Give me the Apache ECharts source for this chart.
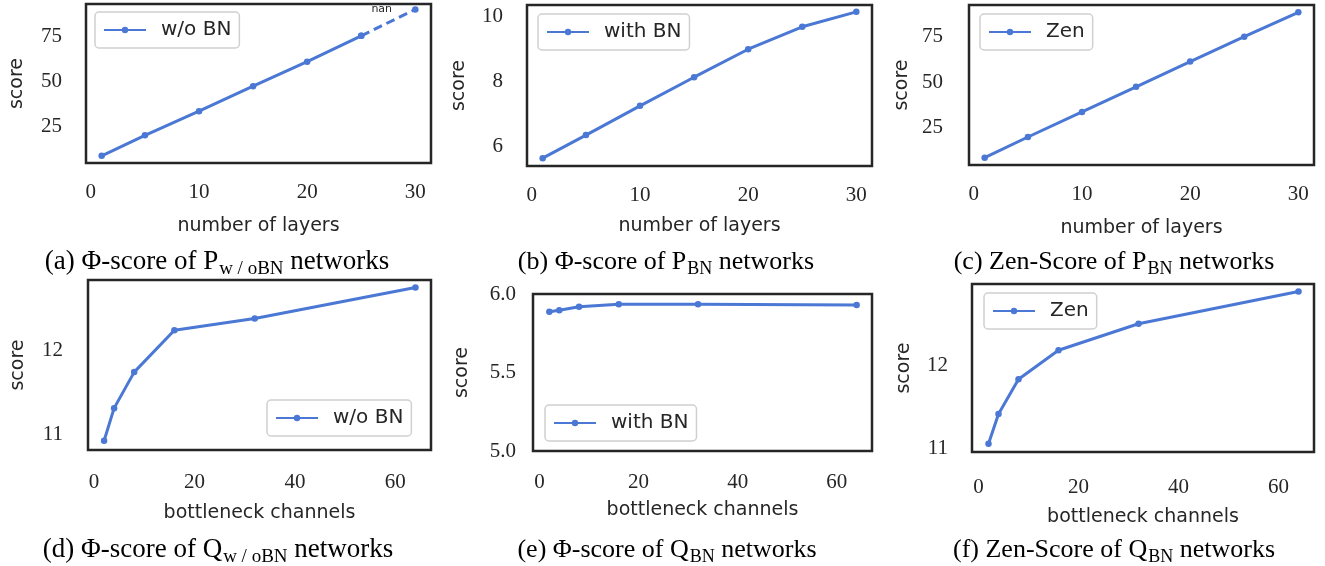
<!DOCTYPE html>
<html>
<head>
<meta charset="utf-8">
<script src="https://cdn.jsdelivr.net/npm/echarts@6/dist/echarts.min.js"></script>
<style>
  html, body { margin: 0; padding: 0; background: #fff; }
  #chart { width: 1325px; height: 566px; }
</style>
</head>
<body>
<div id="chart"></div>
<script>
// x values
var layers = [1, 5, 10, 15, 20, 25, 30];
var channels = [2, 4, 8, 16, 32, 64];

// series values
var phiNoBN = [9.0, 20.3, 33.7, 47.5, 61.1, 75.4, 90.0]; // last point is the "nan" one (dashed)
var phiBN = [5.65, 6.36, 7.26, 8.14, 9.0, 9.69, 10.15];
var zenP = [8.4, 19.8, 33.6, 47.4, 61.3, 75.0, 88.4];
var phiQNoBN = [10.92, 11.31, 11.74, 12.24, 12.38, 12.75];
var phiQBN = [5.887, 5.896, 5.919, 5.934, 5.934, 5.930];
var zenQ = [11.06, 11.42, 11.84, 12.19, 12.51, 12.90];

// tick labels
var layerTicks = [0, 10, 20, 30];
var channelTicks = [0, 20, 40, 60];
var ticksA = [25, 50, 75];
var ticksB = [6, 8, 10];
var ticksC = [25, 50, 75];
var ticksD = [11, 12];
var ticksE = [5.0, 5.5, 6.0];
var ticksF = [11, 12];

var BLUE = '#4a78d4';
var DARK = '#262626';
var SANS = '"DejaVu Sans", sans-serif';
var SERIF = '"Liberation Serif", serif';

function pairs(xs, ys) {
    return xs.map(function (x, i) { return [x, ys[i]]; });
}

// one panel: grid box, axis ranges and label offsets
var panels = [
    { box: [86, 4, 345, 159], x: [-0.45, 31.45], y: [5.0, 93.0], xt: layerTicks, yt: ticksA, xname: 'number of layers', xm: 19, xg: 54, ym: 24, yg: 59 },
    { box: [527, 5, 345, 161], x: [-0.45, 31.45], y: [5.41, 10.36], xt: layerTicks, yt: ticksB, xname: 'number of layers', xm: 19, xg: 51, ym: 24, yg: 58 },
    { box: [969, 5, 345, 160], x: [-0.45, 31.45], y: [4.4, 92.4], xt: layerTicks, yt: ticksC, xname: 'number of layers', xm: 19, xg: 54, ym: 26, yg: 57 },
    { box: [88, 280, 343, 170], x: [-1.2, 67.1], y: [10.81, 12.84], xt: channelTicks, yt: ticksD, xname: 'bottleneck channels', xm: 22, xg: 54, ym: 25, yg: 60 },
    { box: [533, 294, 339, 157], x: [-1.3, 67.1], y: [5.0, 6.0], xt: channelTicks, yt: ticksE, xname: 'bottleneck channels', xm: 21, xg: 50, ym: 17, yg: 61, fixed: 1 },
    { box: [972, 284, 342, 168], x: [-1.3, 67.1], y: [10.96, 12.99], xt: channelTicks, yt: ticksF, xname: 'bottleneck channels', xm: 25, xg: 56, ym: 24, yg: 58 }
];

var grids = [], xAxes = [], yAxes = [];
panels.forEach(function (p) {
    grids.push({
        left: p.box[0], top: p.box[1], width: p.box[2], height: p.box[3],
        show: true, borderColor: DARK, borderWidth: 2.5, backgroundColor: 'transparent',
        outerBoundsMode: 'none'
    });
    var i = grids.length - 1;
    xAxes.push({
        type: 'value', gridIndex: i, min: p.x[0], max: p.x[1],
        name: p.xname, nameLocation: 'middle', nameGap: p.xg,
        nameTextStyle: { fontFamily: SANS, fontSize: 19, color: DARK },
        axisLine: { show: false }, axisTick: { show: false }, splitLine: { show: false },
        axisLabel: { customValues: p.xt, margin: p.xm, fontFamily: SERIF, fontSize: 21, color: DARK }
    });
    yAxes.push({
        type: 'value', gridIndex: i, min: p.y[0], max: p.y[1],
        name: 'score', nameLocation: 'middle', nameGap: p.yg,
        nameTextStyle: { fontFamily: SANS, fontSize: 19, color: DARK },
        axisLine: { show: false }, axisTick: { show: false }, splitLine: { show: false },
        axisLabel: {
            customValues: p.yt, margin: p.ym, fontFamily: SERIF, fontSize: 21, color: DARK,
            formatter: p.fixed ? function (v) { return v.toFixed(1); } : null
        }
    });
});

function line(name, idx, data, extra) {
    var s = {
        type: 'line', name: name, xAxisIndex: idx, yAxisIndex: idx, data: data,
        symbol: 'circle', symbolSize: 6.5, color: BLUE,
        lineStyle: { width: 3, color: BLUE }, itemStyle: { color: BLUE }
    };
    for (var k in extra) s[k] = extra[k];
    return s;
}

var dashed = pairs(layers.slice(5), phiNoBN.slice(5));
dashed[1] = {
    value: dashed[1],
    label: { show: true, formatter: 'nan', position: 'left', distance: 20, fontFamily: SANS, fontSize: 11, color: DARK }
};

var series = [
    line('w/o BN', 0, pairs(layers.slice(0, 6), phiNoBN.slice(0, 6))),
    line('w/o BN nan', 0, dashed, { lineStyle: { width: 3, color: BLUE, type: [9, 5] } }),
    line('with BN', 1, pairs(layers, phiBN)),
    line('Zen', 2, pairs(layers, zenP)),
    line('w/o BN', 3, pairs(channels, phiQNoBN)),
    line('with BN', 4, pairs(channels, phiQBN)),
    line('Zen', 5, pairs(channels, zenQ))
];

// legends: one per panel
function legend(name, left, top) {
    return {
        data: [name], left: left, top: top, orient: 'vertical',
        itemWidth: 42, itemHeight: 8, padding: [8, 8],
        backgroundColor: '#fff', borderColor: '#d0d0d0', borderWidth: 1.5, borderRadius: 4,
        textStyle: { fontFamily: SANS, fontSize: 20, color: DARK, padding: [0, 0, 0, 10] },
        selectedMode: false
    };
}
var legends = [
    legend('w/o BN', 95, 12),
    legend('with BN', 538, 14),
    legend('Zen', 980, 14),
    legend('w/o BN', 267, 400),
    legend('with BN', 545, 405),
    legend('Zen', 984, 293)
];

// captions under each panel
var captionRich = {
    t: { fontFamily: SERIF, fontSize: 27, color: '#000' },
    s: { fontFamily: SERIF, fontSize: 19, color: '#000', padding: [15, 0, 0, 1] },
    u: { fontFamily: SERIF, fontSize: 26, color: '#000' },
    v: { fontFamily: SERIF, fontSize: 18, color: '#000', padding: [15, 0, 0, 1] }
};
var captions = [
    ['{t|(a) \u03A6-score of P}{s|w / oBN}{t| networks}', 217, 262],
    ['{u|(b) \u03A6-score of P}{v|BN}{u| networks}', 666, 262],
    ['{u|(c) Zen-Score of P}{v|BN}{u| networks}', 1114, 262],
    ['{t|(d) \u03A6-score of Q}{s|w / oBN}{t| networks}', 218, 550],
    ['{u|(e) \u03A6-score of Q}{v|BN}{u| networks}', 667, 550],
    ['{u|(f) Zen-Score of Q}{v|BN}{u| networks}', 1114, 550]
];
var graphic = captions.map(function (c) {
    return {
        type: 'text', x: c[1], y: c[2],
        style: { text: c[0], rich: captionRich, align: 'center', verticalAlign: 'middle' }
    };
});

var chart = echarts.init(document.getElementById('chart'));
chart.setOption({
    animation: false,
    backgroundColor: '#fff',
    grid: grids,
    xAxis: xAxes,
    yAxis: yAxes,
    legend: legends,
    series: series,
    graphic: graphic
});
</script>
</body>
</html>
